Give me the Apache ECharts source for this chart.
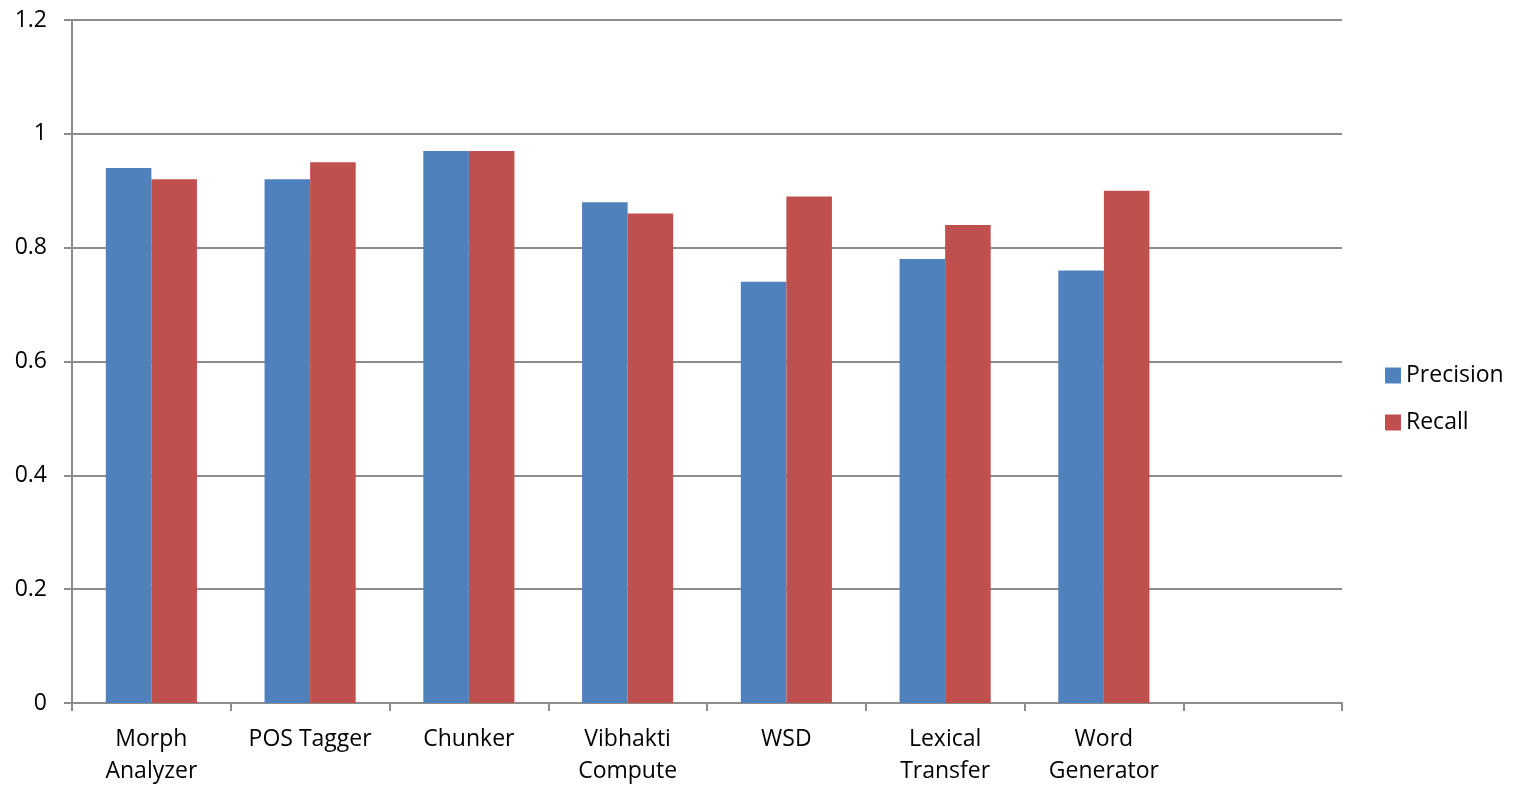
<!DOCTYPE html>
<html>
<head>
<meta charset="utf-8">
<script src="https://cdn.jsdelivr.net/npm/echarts@6/dist/echarts.min.js"></script>
<style>
  html, body { margin: 0; padding: 0; background: #fff; overflow: hidden; }
  #chart { width: 1519px; height: 787px; }
</style>
</head>
<body>
<div id="chart"></div>
<script>
// Module names along the pipeline (last slot intentionally left blank)
const categories = ['Morph\nAnalyzer', 'POS Tagger', 'Chunker', 'Vibhakti\nCompute', 'WSD', 'Lexical\nTransfer', 'Word\nGenerator', ''];
const precision = [0.94, 0.92, 0.97, 0.88, 0.74, 0.78, 0.76, null];
const recall = [0.92, 0.95, 0.97, 0.86, 0.89, 0.84, 0.90, null];
const yTicks = [0, 0.2, 0.4, 0.6, 0.8, 1, 1.2];

const FONT = '"Open Sans", "Liberation Sans", sans-serif';
const AXIS_GREY = '#8c8c8c';

const chart = echarts.init(document.getElementById('chart'), null, { renderer: 'canvas' });
chart.setOption({
  animation: false,
  backgroundColor: '#fff',
  textStyle: { fontFamily: FONT },
  grid: { left: 72, right: 177, top: 20, bottom: 81, containLabel: false },
  legend: {
    orient: 'vertical',
    left: 1380,
    top: 359,
    itemWidth: 16,
    itemHeight: 16,
    itemGap: 24,
    icon: 'rect',
    textStyle: { fontSize: 23, color: '#000', fontFamily: FONT },
    data: ['Precision', 'Recall']
  },
  xAxis: {
    type: 'category',
    data: categories,
    boundaryGap: true,
    axisLine: { lineStyle: { color: AXIS_GREY, width: 2 } },
    axisTick: { show: true, length: 8, alignWithLabel: false, lineStyle: { color: AXIS_GREY, width: 2 } },
    axisLabel: { color: '#000', fontSize: 23, lineHeight: 32, margin: 20, interval: 0, fontFamily: FONT },
    splitLine: { show: false }
  },
  yAxis: {
    type: 'value',
    min: yTicks[0],
    max: yTicks[yTicks.length - 1],
    interval: 0.2,
    axisLine: { show: true, lineStyle: { color: AXIS_GREY, width: 2 } },
    axisTick: { show: true, length: 8, lineStyle: { color: AXIS_GREY, width: 2 } },
    axisLabel: {
      color: '#000', fontSize: 23, margin: 25, fontFamily: FONT,
      formatter: v => String(Math.round(v * 10) / 10)
    },
    splitLine: { show: true, lineStyle: { color: AXIS_GREY, width: 2 } }
  },
  series: [
    {
      name: 'Precision',
      type: 'bar',
      data: precision,
      barGap: '0%',
      barCategoryGap: '42.6%',
      itemStyle: { color: '#4F81BD' }
    },
    {
      name: 'Recall',
      type: 'bar',
      data: recall,
      barGap: '0%',
      barCategoryGap: '42.6%',
      itemStyle: { color: '#C0504D' }
    }
  ]
});
</script>
</body>
</html>
